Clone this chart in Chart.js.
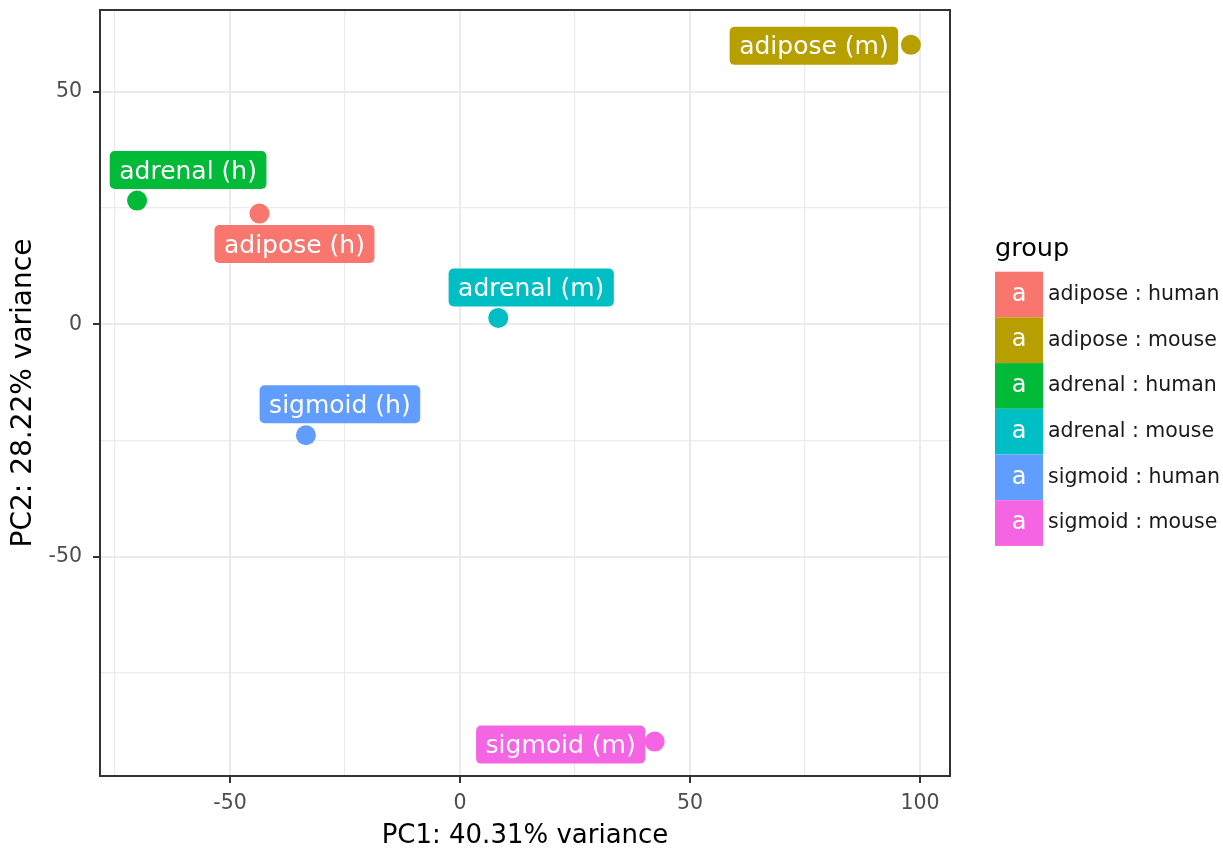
<!DOCTYPE html>
<html>
<head>
<meta charset="utf-8">
<title>PCA</title>
<script src="https://cdn.jsdelivr.net/npm/chart.js@4.4.1/dist/chart.umd.min.js"></script>
<style>
  html, body { margin: 0; padding: 0; background: #ffffff; }
  #pca { display: block; }
</style>
</head>
<body>
<canvas id="pca" width="1223" height="849"></canvas>
<script>
// Sample names, groups and principal-component scores
const samples = ['adipose (h)', 'adipose (m)', 'adrenal (h)', 'adrenal (m)', 'sigmoid (h)', 'sigmoid (m)'];
const groups = ['adipose : human', 'adipose : mouse', 'adrenal : human', 'adrenal : mouse', 'sigmoid : human', 'sigmoid : mouse'];
const pc1 = [-43.6, 98.0, -70.2, 8.3, -33.5, 42.3];
const pc2 = [23.8, 60.1, 26.6, 1.35, -23.9, -89.8];

// Axis tick labels (major breaks)
const xTickLabels = [-50, 0, 50, 100];
const yTickLabels = [-50, 0, 50];

// Presentation settings
const palette = ['#F8766D', '#B79F00', '#00BA38', '#00BFC4', '#619CFF', '#F564E3'];
const labelNudge = [[35, 30.5], [-97, 1], [51, -30.5], [33, -30.5], [34, -31], [-94, 3]];
const FONT = '"DejaVu Sans", "Liberation Sans", sans-serif';

Chart.defaults.font.family = FONT;

// Rounded text boxes next to each point
const sampleLabels = {
  id: 'sampleLabels',
  afterDatasetsDraw(chart) {
    const ctx = chart.ctx;
    ctx.save();
    ctx.font = '25px ' + FONT;
    chart.data.datasets.forEach((ds, i) => {
      const pt = chart.getDatasetMeta(i).data[0];
      const [dx, dy] = labelNudge[i];
      const text = samples[i];
      const w = ctx.measureText(text).width + 19;
      const h = 38;
      const cx = pt.x + dx, cy = pt.y + dy;
      ctx.fillStyle = ds.backgroundColor;
      ctx.beginPath();
      ctx.roundRect(cx - w / 2, cy - h / 2, w, h, 5);
      ctx.fill();
      ctx.fillStyle = '#ffffff';
      ctx.textAlign = 'center';
      ctx.textBaseline = 'middle';
      ctx.fillText(text, cx, cy + 2);
    });
    ctx.restore();
  }
};

// Panel frame and group legend
const frameAndLegend = {
  id: 'frameAndLegend',
  afterDraw(chart) {
    const ctx = chart.ctx;
    const a = chart.chartArea;
    ctx.save();
    ctx.strokeStyle = '#333333';
    ctx.lineWidth = 2;
    ctx.strokeRect(a.left, a.top, a.right - a.left, a.bottom - a.top);

    const lx = 995, top = 271.7, rowH = 45.7, keyW = 48;
    ctx.fillStyle = '#000000';
    ctx.font = '25.6px ' + FONT;
    ctx.textAlign = 'left';
    ctx.textBaseline = 'alphabetic';
    ctx.fillText('group', lx, 256);
    chart.data.datasets.forEach((ds, i) => {
      const y = top + i * rowH;
      ctx.fillStyle = ds.backgroundColor;
      ctx.fillRect(lx, y, keyW, rowH);
      ctx.fillStyle = '#ffffff';
      ctx.font = '24px ' + FONT;
      ctx.textAlign = 'center';
      ctx.textBaseline = 'middle';
      ctx.fillText('a', lx + keyW / 2, y + rowH / 2);
      ctx.fillStyle = '#1a1a1a';
      ctx.font = '20.5px ' + FONT;
      ctx.textAlign = 'left';
      ctx.fillText(ds.label, 1048, y + rowH / 2);
    });
    ctx.restore();
  }
};

function gridOpts(majors) {
  return {
    color: '#ebebeb',
    lineWidth: c => majors.includes(c.tick.value) ? 2 : 1.2,
    tickColor: c => majors.includes(c.tick.value) ? '#333333' : 'rgba(0,0,0,0)',
    tickWidth: 2,
    tickLength: 7,
    drawTicks: true
  };
}

const datasets = samples.map((s, i) => ({
  label: groups[i],
  data: [{ x: pc1[i], y: pc2[i] }],
  backgroundColor: palette[i],
  borderColor: palette[i],
  pointRadius: 10,
  pointHoverRadius: 10,
  borderWidth: 0
}));

new Chart(document.getElementById('pca'), {
  type: 'scatter',
  data: { datasets },
  options: {
    responsive: false,
    animation: false,
    devicePixelRatio: 1,
    layout: { padding: { top: 8, right: 273, bottom: 0, left: 0 } },
    plugins: {
      legend: { display: false },
      tooltip: { enabled: false }
    },
    scales: {
      x: {
        type: 'linear',
        position: 'bottom',
        min: -78.26,
        max: 106.5,
        afterFit(scale) {
          scale.height = 73;
          scale.paddingLeft = 0;
          scale.paddingRight = 0;
        },
        grid: gridOpts(xTickLabels),
        border: { display: false },
        ticks: {
          stepSize: 25,
          includeBounds: false,
          autoSkip: false,
          maxRotation: 0,
          padding: 8,
          color: '#4d4d4d',
          font: { size: 20.5, family: FONT },
          callback: v => xTickLabels.includes(v) ? String(v) : ''
        },
        title: {
          display: true,
          text: 'PC1: 40.31% variance',
          color: '#000000',
          font: { size: 26, family: FONT, lineHeight: 1 },
          padding: { top: 0, bottom: 0 }
        }
      },
      y: {
        type: 'linear',
        position: 'left',
        min: -97.2,
        max: 67.6,
        afterFit(scale) {
          scale.width = 100;
          scale.paddingTop = 0;
          scale.paddingBottom = 0;
        },
        grid: gridOpts(yTickLabels),
        border: { display: false },
        ticks: {
          stepSize: 25,
          includeBounds: false,
          autoSkip: false,
          padding: 11,
          color: '#4d4d4d',
          font: { size: 20.5, family: FONT },
          callback: v => yTickLabels.includes(v) ? String(v) : ''
        },
        title: {
          display: true,
          text: 'PC2: 28.22% variance',
          color: '#000000',
          font: { size: 28, family: FONT, lineHeight: 1 },
          padding: { top: 10, bottom: 0 }
        }
      }
    }
  },
  plugins: [sampleLabels, frameAndLegend]
});
</script>
</body>
</html>
